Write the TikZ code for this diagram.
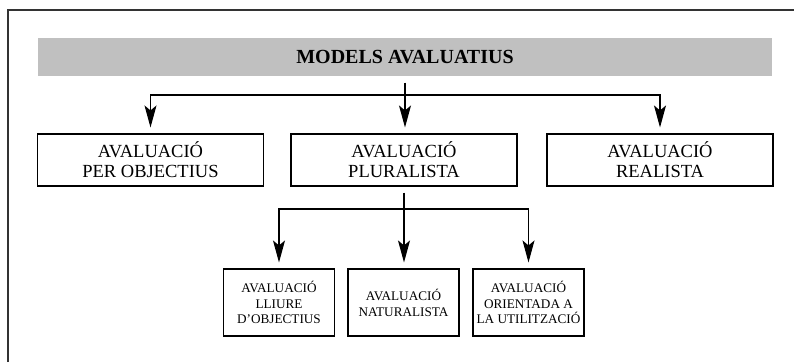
\documentclass[tikz,border=0pt]{standalone}
\usepackage{fontspec}
\setmainfont{Liberation Serif}
\usetikzlibrary{arrows.meta,positioning}
\definecolor{bargray}{RGB}{192,192,192}

\begin{document}
\begin{tikzpicture}[x=1pt, y=-1pt, line width=1.1pt,
    arr/.style={-{Stealth[length=22pt, width=12pt, inset=5pt]}, shorten >=6pt},
    bigbox/.style={draw, rectangle, minimum width=226pt, minimum height=52pt, align=center,
        font=\fontsize{18.5}{20}\selectfont, inner sep=0pt},
    smallbox/.style={draw, rectangle, minimum width=111pt, minimum height=67pt, align=center,
        font=\fontsize{13.2}{15.8}\selectfont, inner sep=0pt}]

    \useasboundingbox (0,0) rectangle (794,362);

    % Frame
    \draw[line width=1.5pt, black!80] (8,362) -- (8,10) -- (794,10);

    % Nodes
    \node (models) [fill=bargray, minimum width=734pt, minimum height=38pt, inner sep=0pt,
        font=\fontsize{20}{22}\selectfont\bfseries] at (405,57) {MODELS AVALUATIUS};
    \node (obj)  [bigbox] at (150.5,160) {AVALUACIÓ\\PER OBJECTIUS};
    \node (plur) [bigbox] at (404,160) {AVALUACIÓ\\PLURALISTA};
    \node (real) [bigbox] at (660,160) {AVALUACIÓ\\REALISTA};
    \node (lliure) [smallbox] at (279,302.5) {AVALUACIÓ\\LLIURE\\D’OBJECTIUS};
    \node (natur)  [smallbox] at (403.5,302.5) {AVALUACIÓ\\NATURALISTA};
    \node (util)   [smallbox] at (528.5,302.5) {AVALUACIÓ\\ORIENTADA A\\LA UTILITZACIÓ};

    % Junctions
    \coordinate (hubtop) at (405,95);
    \coordinate (hubbot) at (404,209);

    % Top level
    \draw[arr, shorten <=6pt] (models.south -| hubtop) -- (plur.north -| hubtop);
    \draw[arr] (hubtop) -| (obj.north);
    \draw[arr] (hubtop) -| (real.north);

    % Second level
    \draw[arr, shorten <=6pt] (plur.south -| hubbot) -- (natur.north -| hubbot);
    \draw[arr] (hubbot) -| (lliure.north);
    \draw[arr] (hubbot) -| (util.north);

\end{tikzpicture}
\end{document}
